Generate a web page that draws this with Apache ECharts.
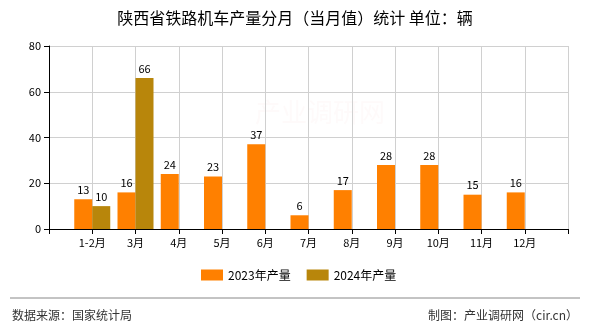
<!DOCTYPE html>
<html>
<head>
<meta charset="utf-8">
<script src="https://cdn.jsdelivr.net/npm/echarts@6/dist/echarts.min.js"></script>
<style>
  html, body { margin: 0; padding: 0; background: #fff; }
  #chart { width: 590px; height: 330px; }
</style>
</head>
<body>
<div id="chart"></div>
<script>
// Monthly output of railway locomotives in Shaanxi (units)
const months = ['', '1-2月', '3月', '4月', '5月', '6月', '7月', '8月', '9月', '10月', '11月', '12月', ''];
const output2023 = [null, 13, 16, 24, 23, 37, 6, 17, 28, 28, 15, 16, null];
const output2024 = [null, 10, 66, null, null, null, null, null, null, null, null, null, null];
const yTicks = { min: 0, max: 80, interval: 20 };

const FONT = '"Noto Sans CJK SC", "Noto Sans", sans-serif';
const chart = echarts.init(document.getElementById('chart'));

const labelStyle = { show: true, position: 'top', color: '#000', fontSize: 11, fontFamily: FONT, distance: 4 };

chart.setOption({
  animation: false,
  title: {
    text: '陕西省铁路机车产量分月（当月值）统计 单位：辆',
    left: 'center', top: 5,
    textStyle: { fontSize: 16, fontWeight: 'normal', color: '#000', fontFamily: FONT }
  },
  legend: {
    bottom: 44, left: 196,
    icon: 'rect',
    itemWidth: 22, itemHeight: 11, itemGap: 16,
    textStyle: { fontSize: 12, color: '#000', fontFamily: FONT },
    data: ['2023年产量', '2024年产量']
  },
  grid: { left: 49, right: 22, top: 46, bottom: 101, containLabel: false },
  xAxis: {
    type: 'category',
    data: months,
    boundaryGap: false,
    axisLine: { lineStyle: { color: '#000', width: 1 } },
    axisTick: { show: true, length: 5, lineStyle: { color: '#000' } },
    axisLabel: { color: '#000', fontSize: 11, fontFamily: FONT, interval: 0, margin: 8 },
    splitLine: { show: true, lineStyle: { color: '#d0d0d0', width: 1 } }
  },
  yAxis: {
    type: 'value',
    min: yTicks.min, max: yTicks.max, interval: yTicks.interval,
    axisLine: { show: true, lineStyle: { color: '#000', width: 1 } },
    axisTick: { show: true, length: 5, lineStyle: { color: '#000' } },
    axisLabel: { color: '#000', fontSize: 11, fontFamily: FONT, margin: 8 },
    splitLine: { show: true, lineStyle: { color: '#d0d0d0', width: 1 } }
  },
  series: [
    {
      name: '2023年产量', type: 'bar', data: output2023,
      barWidth: 18, barGap: '0%',
      itemStyle: { color: '#FF8000' },
      label: labelStyle
    },
    {
      name: '2024年产量', type: 'bar', data: output2024,
      barWidth: 18, barGap: '0%',
      itemStyle: { color: '#B8860B' },
      label: labelStyle
    }
  ],
  graphic: [
    {
      type: 'text', left: 255, top: 99, silent: true, z: -1,
      style: { text: '产业调研网', fontSize: 26, fontFamily: FONT, fill: 'rgba(230,120,120,0.04)' }
    },
    {
      type: 'line', silent: true,
      shape: { x1: 10, y1: 298, x2: 580, y2: 298 },
      style: { stroke: '#888', lineWidth: 1 }
    },
    {
      type: 'text', left: 12, top: 309,
      style: { text: '数据来源：国家统计局', fontSize: 12, fontFamily: FONT, fill: '#333' }
    },
    {
      type: 'text', right: 12, top: 309,
      style: { text: '制图：产业调研网（cir.cn）', fontSize: 12, fontFamily: FONT, fill: '#333' }
    }
  ]
});
</script>
</body>
</html>
